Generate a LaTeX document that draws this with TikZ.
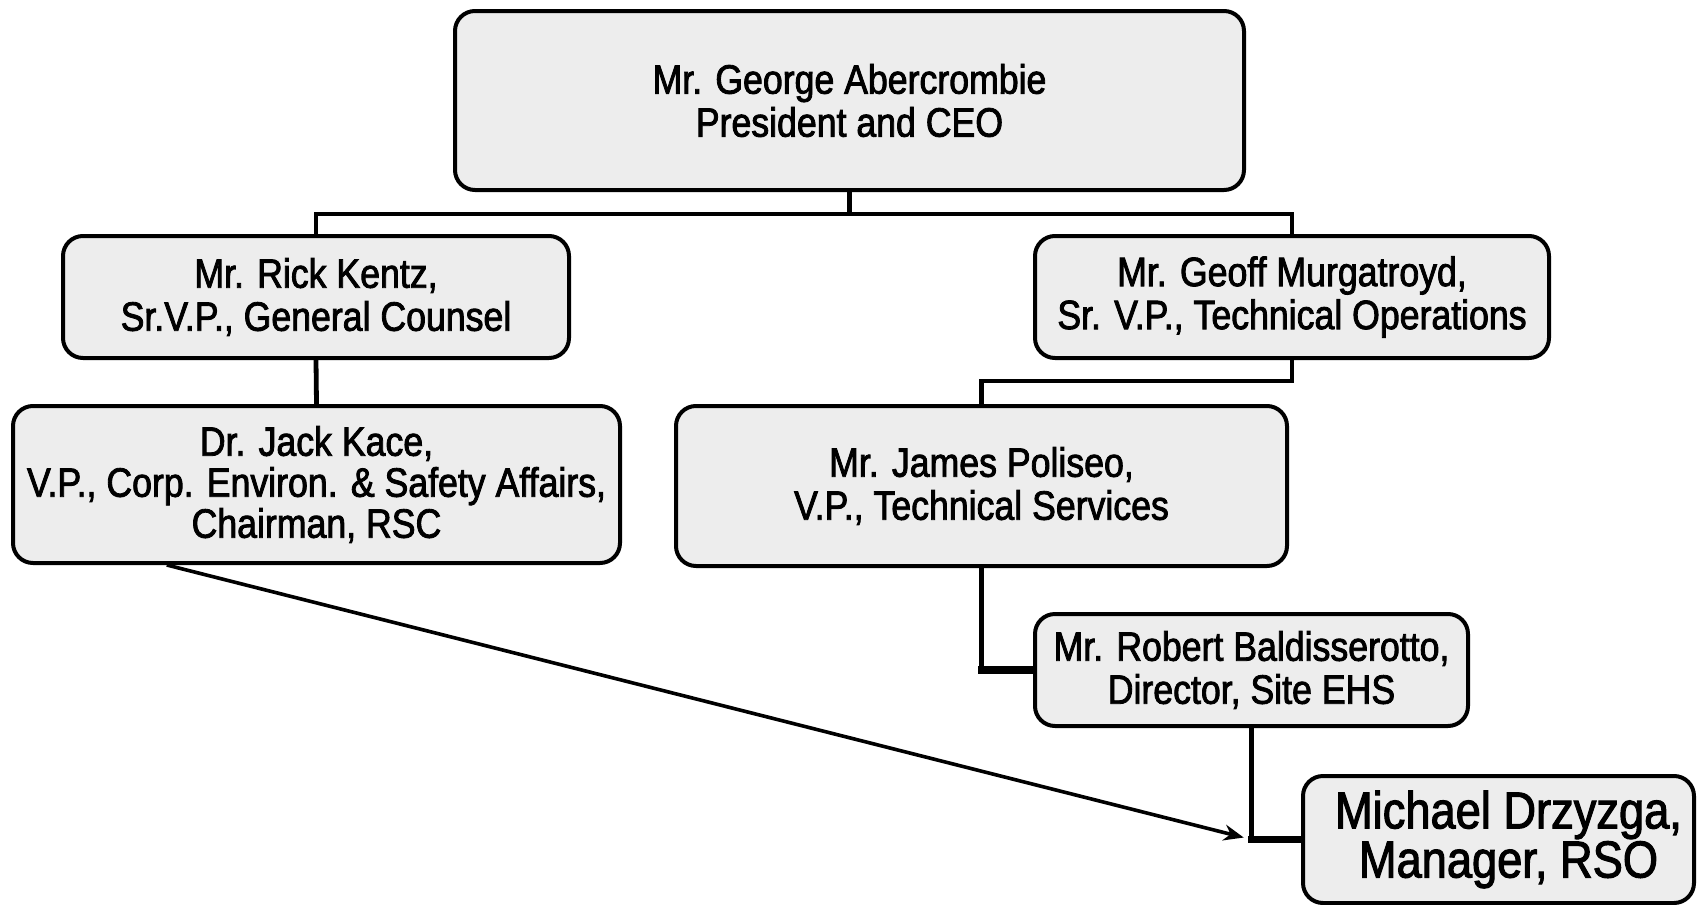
\documentclass[tikz,border=0pt]{standalone}
\usepackage{fontspec}
\setmainfont[FakeStretch=0.87,FakeBold=2]{Liberation Sans}
\usetikzlibrary{arrows.meta,calc}
\begin{document}
\begin{tikzpicture}[x=0.5pt,y=-0.5pt,
  box/.style={draw=black,line width=2pt,rounded corners=10pt,fill=gray!14,
    rectangle,align=center,inner sep=0pt,font=\fontsize{20.5}{21.5}\selectfont},
  link/.style={draw=black,line width=2.4pt,line cap=rect},
  thick link/.style={draw=black,line width=3.6pt,line cap=rect},
  thin link/.style={draw=black,line width=1.8pt}]
\useasboundingbox (0,0) rectangle (1699,905);
\node[box,minimum width=394.5pt,minimum height=89.5pt] (ceo) at (849.5,100.5)
  {Mr. George Abercrombie\\President and CEO};
\node[box,minimum width=253pt,minimum height=61pt] (kentz) at (316,297)
  {Mr. Rick Kentz,\\Sr.V.P., General Counsel};
\node[box,minimum width=257pt,minimum height=61pt] (murg) at (1292,297)
  {Mr. Geoff Murgatroyd,\\Sr. V.P., Technical Operations};
\node[box,minimum width=303.5pt,minimum height=78.5pt,font=\fontsize{20.5}{20.5}\selectfont] (kace) at (316.5,484.5)
  {Dr. Jack Kace,\\V.P., Corp. Environ. \& Safety Affairs,\\Chairman, RSC};
\node[box,minimum width=305.5pt,minimum height=80pt] (poli) at (981.5,486)
  {Mr. James Poliseo,\\V.P., Technical Services};
\node[box,minimum width=216.5pt,minimum height=56pt] (bald) at (1251.5,670)
  {Mr. Robert Baldisserotto,\\Director, Site EHS};
\node[box,minimum width=195.5pt,minimum height=63.5pt,font=\fontsize{26}{22.5}\selectfont] (drz) at (1498.5,839.5)
  {\hspace*{10pt}Michael Drzyzga,\\\hspace*{10pt}Manager, RSO};
% connectors
\draw[link] (ceo.south) -- ++(0,22) coordinate (bar);
\draw[link] (kentz.north) |- (bar) -| (murg.north);
\draw[link] (kentz.south) -- (kace.north);
\draw[link] (murg.south) -- ++(0,21) coordinate (mbend) -| (poli.north);
\draw[link] (poli.south) -- (poli.south |- bald.west) coordinate (pcorner);
\draw[thick link] (pcorner) -- (bald.west);
\draw[link] (bald.south) -- (bald.south |- drz.west) coordinate (corner);
\draw[thick link] (corner) -- (drz.west);
\coordinate (kacefoot) at ($(kace.south west)!0.255!(kace.south east)$);
\draw[thin link,-{Stealth[length=10pt,width=8pt]},shorten >=4pt] (kacefoot) -- (corner);
\end{tikzpicture}
\end{document}
